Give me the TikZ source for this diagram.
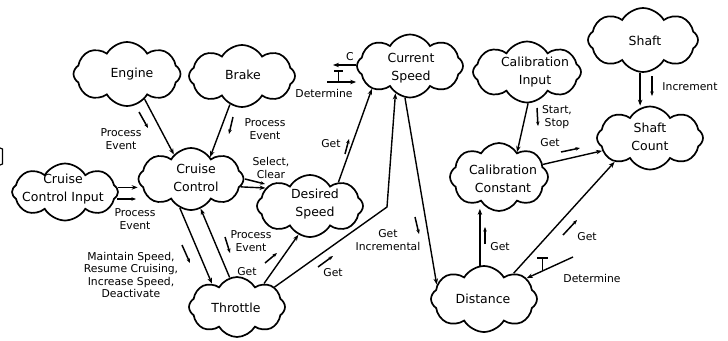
\documentclass[tikz,border=0pt]{standalone}
\usepackage{fontspec}
\setmainfont{DejaVu Sans}
\usetikzlibrary{shapes.symbols,arrows.meta,calc}
\newcommand\cloudfnt{\fontsize{12.5}{18.5}\selectfont}
\newcommand\lblfnt{\fontsize{10.8}{12.5}\selectfont}
\begin{document}
\begin{tikzpicture}[x=1pt,y=-1pt,
  cloudbox/.style={cloud, draw, line width=1.7pt, cloud puffs=8, cloud puff arc=120,
    cloud ignores aspect, inner sep=0pt},
  cloudtext/.style={font=\cloudfnt, align=center, inner sep=0pt},
  lbl/.style={font=\lblfnt, align=center, inner sep=0pt},
  conn/.style={line width=1.4pt, -{Stealth[length=6pt,width=4.5pt]}},
  msg/.style={line width=1.5pt, -{Stealth[length=4.5pt,width=3.5pt]}},
  tmark/.style={line width=1.3pt},
]
\useasboundingbox (0,0) rectangle (728,340);

% objects
\node[cloudbox, minimum width=107pt, minimum height=64pt] (eng)  at (127,74)  {};
\node[cloudbox, minimum width=106pt, minimum height=62pt] (brk)  at (242,76)  {};
\node[cloudbox, minimum width=106pt, minimum height=63pt] (cur)  at (410,66)  {};
\node[cloudbox, minimum width=108pt, minimum height=61pt] (cin)  at (527,72)  {};
\node[cloudbox, minimum width=110pt, minimum height=64pt] (sha)  at (643,40)  {};
\node[cloudbox, minimum width=106pt, minimum height=63pt] (sc)   at (650,138) {};
\node[cloudbox, minimum width=98pt,  minimum height=68pt] (ccon) at (499,177) {};
\node[cloudbox, minimum width=106pt, minimum height=66pt] (dist) at (484,299) {};
\node[cloudbox, minimum width=96pt,  minimum height=60pt] (thr)  at (237,307) {};
\node[cloudbox, minimum width=106pt, minimum height=62pt] (ds)   at (310,206) {};
\node[cloudbox, minimum width=105pt, minimum height=62pt] (cc)   at (191,179) {};
\node[cloudbox, minimum width=106pt, minimum height=57pt] (cci)  at (65,192)  {};

% object names
\node[cloudtext] (tEng)  at (132,74)  {Engine};
\node[cloudtext] (tBrk)  at (243,75)  {Brake};
\node[cloudtext] (tCur)  at (411,68)  {Current\\Speed};
\node[cloudtext] (tCin)  at (535,72)  {Calibration\\Input};
\node[cloudtext] (tSha)  at (645,41)  {Shaft};
\node[cloudtext] (tSc)   at (650,137) {Shaft\\Count};
\node[cloudtext] (tCcon) at (503,179) {Calibration\\Constant};
\node[cloudtext] (tDist) at (483,299) {Distance};
\node[cloudtext] (tThr)  at (236,308) {Throttle};
\node[cloudtext] (tDs)   at (315,204) {Desired\\Speed};
\node[cloudtext] (tCc)   at (196,178) {Cruise\\Control};
\node[cloudtext] (tCci)  at (63,189)  {Cruise\\Control Input};

% links
\draw[conn] (eng.-55) -- (cc.125);
\draw[conn] (brk.-113) -- (cc.49);
\draw[conn] (cci.5) -- (cci.5 -| cc.west);
\draw[conn] (cc.-9) -- (ds.158);
\draw[conn] (thr.104) -- (cc.-72);
\draw[conn] (cc.-111) -- (thr.137);
\draw[conn] (thr.41) -- (ds.-112);
\coordinate (bend) at (387,207);
\draw[conn] (thr.28) -- (bend) -- (cur.-118);
\draw[conn] (ds.40) -- (cur.-149);
\draw[conn] (cur.-99) -- (dist.163);
\draw[conn] (dist.97) -- ($(dist.97 |- ccon.south)+(0,-3)$);
\draw[conn] (dist.41) -- (sc.-146);
\draw[conn] (cin.-88) -- (ccon.54);
\draw[conn] (ccon.16) -- (sc.-165);
\draw[conn] (sha.-95) -- (sha.-95 |- sc.north);

% timed operations
\coordinate (detA) at (327,82);
\draw[conn] (detA) -- (detA -| cur.west);
\draw[tmark] (334,71) -- (343,71) (338.5,71) -- (338.5,82);
\coordinate (clkA) at (333,65);
\draw[conn] (clkA -| cur.west) -- (clkA);
\coordinate (detB) at (573,257);
\draw[conn] (detB) -- (dist.26);
\draw[tmark] (537,258) -- (548,258) (542.5,258) -- (542.5,271);

% message arrows
\draw[msg] (139,112) -- (148,128);
\draw[msg] (233,117) -- (229,134);
\draw[msg] (117,199) -- (136,199);
\draw[msg] (245,179) -- (265,184);
\draw[msg] (225,237) -- (230,253);
\draw[msg] (182,245) -- (190,263);
\draw[msg] (265,263) -- (277,253);
\draw[msg] (318,267) -- (333,256);
\draw[msg] (345,154) -- (349,139);
\draw[msg] (415,217) -- (419,234);
\draw[msg] (485,244) -- (485,227);
\draw[msg] (563,235) -- (577,220);
\draw[msg] (537,108) -- (538,126);
\draw[msg] (561,152) -- (580,148);
\draw[msg] (652,76) -- (652,96);

% message labels
\node[lbl] (m1)  at (121,139) {Process\\Event};
\node[lbl] (m2)  at (265,129) {Process\\Event};
\node[lbl] (m3)  at (135,219) {Process\\Event};
\node[lbl] (m4)  at (271,168) {Select,\\Clear};
\node[lbl] (m5)  at (251,241) {Process\\Event};
\node[lbl] (m6)  at (131,275) {Maintain Speed,\\Resume Cruising,\\Increase Speed,\\Deactivate};
\node[lbl] (m7)  at (247,272) {Get};
\node[lbl] (m8)  at (333,273) {Get};
\node[lbl] (m9)  at (331,144) {Get};
\node[lbl] (m10) at (388,240) {Get\\Incremental};
\node[lbl] (m11) at (500,247) {Get};
\node[lbl] (m12) at (587,237) {Get};
\node[lbl] (m13) at (557,117) {Start,\\Stop};
\node[lbl] (m14) at (550,143) {Get};
\node[lbl] (m15) at (690,87)  {Increment};
\node[lbl] (m16) at (324,93)  {Determine};
\node[lbl] (m17) at (592,278) {Determine};
\node[lbl] (m18) at (350,57)  {C};

% edge mark at the left border
\draw[line width=1.2pt] (0,148) -- (2.5,149) -- (2.5,164) -- (0,165);
\end{tikzpicture}
\end{document}
